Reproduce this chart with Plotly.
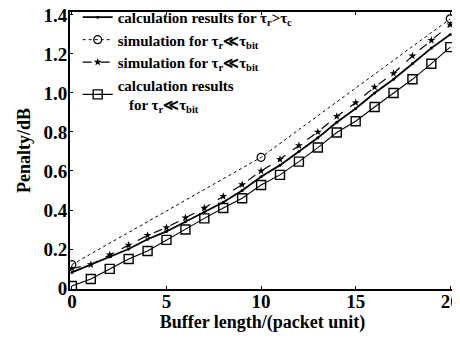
import plotly.graph_objects as go

# ---- data ----
x_int = list(range(0, 21))

calc_fast = [0.08, 0.12, 0.16, 0.20, 0.25, 0.29, 0.34, 0.39, 0.44, 0.50,
             0.57, 0.63, 0.70, 0.77, 0.85, 0.92, 1.00, 1.07, 1.15, 1.23, 1.30]

sim_circle_x = [0, 10, 20]
sim_circle = [0.12, 0.67, 1.38]

sim_star = [0.10, 0.12, 0.17, 0.22, 0.27, 0.31, 0.36, 0.41, 0.47, 0.53,
            0.60, 0.66, 0.73, 0.80, 0.88, 0.95, 1.03, 1.10, 1.19, 1.27, 1.35]

calc_slow = [0.01, 0.046, 0.098, 0.149, 0.19, 0.247, 0.30, 0.357, 0.41, 0.46,
             0.528, 0.58, 0.648, 0.72, 0.797, 0.855, 0.928, 1.0, 1.07, 1.15, 1.235]

x_ticks = [0, 5, 10, 15, 20]
x_ticktext = ["0", "5", "10", "15", "20"]
y_ticks = [0, 0.2, 0.4, 0.6, 0.8, 1.0, 1.2, 1.4]
y_ticktext = ["0", "0.2", "0.4", "0.6", "0.8", "1.0", "1.2", "1.4"]

names = [
    "calculation results for τ<sub>r</sub>>τ<sub>c</sub>",
    "simulation for τ<sub>r</sub>≪τ<sub>bit</sub>",
    "simulation for τ<sub>r</sub>≪τ<sub>bit</sub>",
    "calculation results<br>   for τ<sub>r</sub>≪τ<sub>bit</sub>",
]

FONT = "Liberation Serif"

fig = go.Figure()
fig.add_trace(go.Scatter(
    x=x_int, y=calc_fast, name=names[0], mode="lines+markers",
    line=dict(color="black", width=1.8),
    marker=dict(symbol="circle", size=3, color="black")))
fig.add_trace(go.Scatter(
    x=sim_circle_x, y=sim_circle, name=names[1], mode="lines+markers",
    line=dict(color="black", width=1, dash="dot"),
    marker=dict(symbol="circle-open", size=8, color="black", line=dict(width=1.2))))
fig.add_trace(go.Scatter(
    x=x_int, y=sim_star, name=names[2], mode="lines+markers",
    line=dict(color="black", width=1.2, dash="dash"),
    marker=dict(symbol="star", size=6, color="black")))
fig.add_trace(go.Scatter(
    x=x_int, y=calc_slow, name=names[3], mode="lines+markers",
    line=dict(color="black", width=1.1),
    marker=dict(symbol="square-open", size=9, color="black", line=dict(width=1.4))))

axis_common = dict(
    showline=True, linecolor="black", linewidth=2, mirror="ticks",
    ticks="inside", ticklen=3, tickcolor="black", tickwidth=1,
    showgrid=False, zeroline=False, automargin=False,
    ticklabeloverflow="allow",
    tickfont=dict(family=FONT, size=19, color="black", weight="bold"),
)

# the page body keeps an 8px margin, so the figure is 8px smaller on each side
fig.update_layout(
    width=452, height=336,
    margin=dict(l=62, r=5, t=4, b=55, autoexpand=False),
    paper_bgcolor="white", plot_bgcolor="white",
    font=dict(family=FONT, color="black"),
    showlegend=True,
    legend=dict(
        x=0.02, y=1.04, xanchor="left", yanchor="top",
        bgcolor="rgba(0,0,0,0)", borderwidth=0,
        font=dict(family=FONT, size=15, color="black", weight="bold"),
        tracegroupgap=0, itemwidth=30,
    ),
    xaxis=dict(
        axis_common, range=[-0.1, 20.25],
        tickvals=x_ticks, ticktext=x_ticktext, ticklabelstandoff=-6,
        title=dict(text="Buffer length/(packet unit)", standoff=0,
                   font=dict(family=FONT, size=18, color="black", weight="bold")),
    ),
    yaxis=dict(
        axis_common, range=[-0.005, 1.415],
        tickvals=y_ticks, ticktext=y_ticktext, ticklabelstandoff=-3,
        title=dict(text="Penalty/dB", standoff=8,
                   font=dict(family=FONT, size=18, color="black", weight="bold")),
    ),
)

fig.write_html("out.html")
